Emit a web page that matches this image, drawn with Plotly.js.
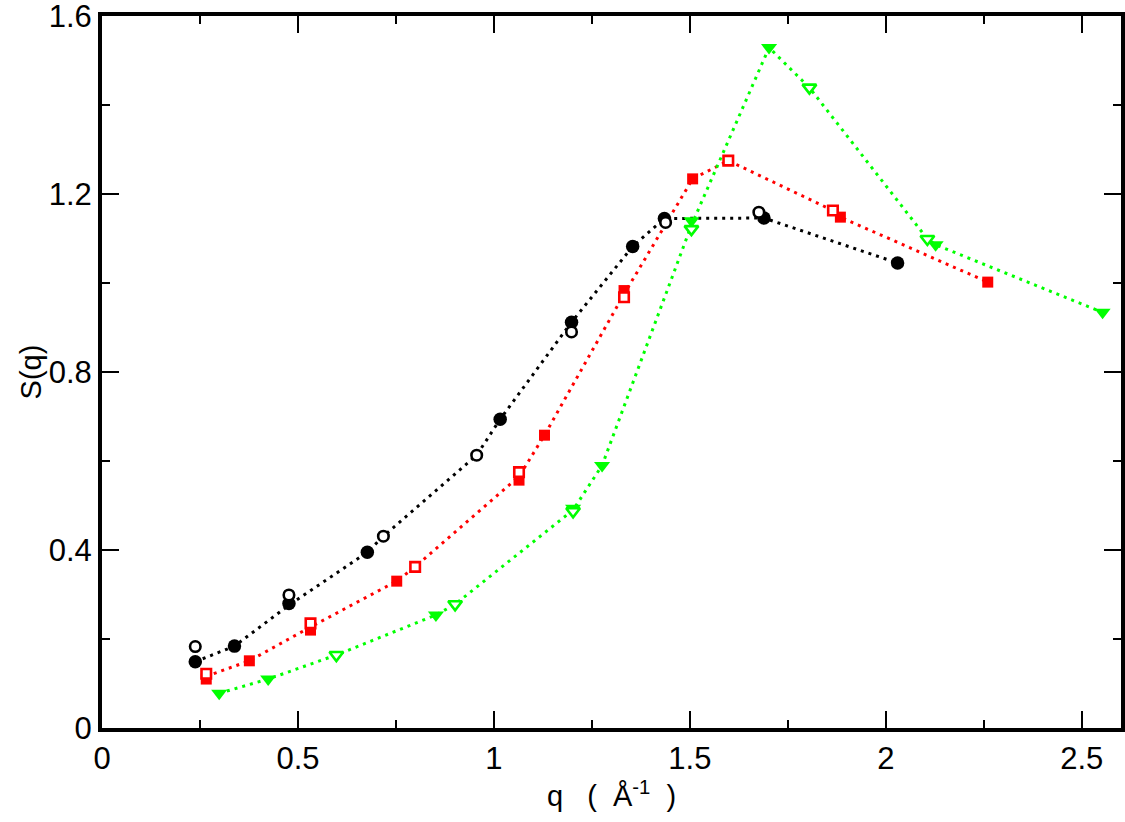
<!DOCTYPE html>
<html>
<head>
<meta charset="utf-8">
<script src="https://cdn.plot.ly/plotly-3.0.1.min.js"></script>
<style>
  html, body { margin: 0; padding: 0; background: #fff; }
  #chart { width: 1125px; height: 822px; }
</style>
</head>
<body>
<div id="chart"></div>
<script>
// S(q): filled and open symbols per colour
const qBlackFilled = [0.238, 0.338, 0.477, 0.677, 1.016, 1.198, 1.354, 1.435, 1.689, 2.030];
const sBlackFilled = [0.149, 0.184, 0.280, 0.395, 0.694, 0.912, 1.082, 1.145, 1.146, 1.045];
const qBlackOpen   = [0.238, 0.477, 0.718, 0.956, 1.198, 1.438, 1.676];
const sBlackOpen   = [0.183, 0.299, 0.431, 0.613, 0.890, 1.136, 1.159];

const qRedFilled = [0.266, 0.376, 0.532, 0.752, 1.064, 1.129, 1.332, 1.507, 1.884, 2.260];
const sRedFilled = [0.110, 0.151, 0.220, 0.330, 0.557, 0.658, 0.983, 1.234, 1.148, 1.002];
const qRedOpen   = [0.266, 0.532, 0.799, 1.064, 1.332, 1.598, 1.865];
const sRedOpen   = [0.122, 0.235, 0.362, 0.575, 0.968, 1.275, 1.163];

const qGreenFilled = [0.299, 0.424, 0.852, 1.202, 1.276, 1.504, 1.702, 2.127, 2.553];
const sGreenFilled = [0.078, 0.110, 0.254, 0.494, 0.590, 1.140, 1.529, 1.086, 0.934];
const qGreenOpen   = [0.598, 0.901, 1.202, 1.504, 1.805, 2.106];
const sGreenOpen   = [0.164, 0.278, 0.487, 1.121, 1.439, 1.099];

// dotted guide lines, vertices as they run in the figure
const qBlackLine = [0.238, 0.338, 0.477, 0.677, 0.718, 0.956, 1.016, 1.198, 1.354, 1.435, 1.689, 2.030];
const sBlackLine = [0.149, 0.184, 0.276, 0.395, 0.431, 0.613, 0.694, 0.912, 1.082, 1.145, 1.146, 1.045];
const qRedLine = [0.266, 0.376, 0.532, 0.752, 0.799, 1.064, 1.129, 1.332, 1.507, 1.598, 1.865, 1.884, 2.260];
const sRedLine = [0.116, 0.151, 0.227, 0.330, 0.362, 0.565, 0.658, 0.975, 1.234, 1.275, 1.163, 1.148, 1.002];
const qGreenLine = [0.299, 0.424, 0.598, 0.852, 0.901, 1.202, 1.276, 1.504, 1.702, 1.805, 2.106, 2.127, 2.553];
const sGreenLine = [0.078, 0.110, 0.164, 0.254, 0.278, 0.490, 0.590, 1.130, 1.529, 1.439, 1.099, 1.086, 0.934];

const BLACK = '#000000', RED = '#ff0000', GREEN = '#00ff00';
const FONT = 'Liberation Sans, Arial, Helvetica, sans-serif';

function lineTrace(color, q, s) {
  return { type: 'scatter', mode: 'lines', x: q, y: s, hoverinfo: 'skip',
    line: { color: color, width: 3, dash: '3px,5px' } };
}

function filled(color, symbol, size, q, s) {
  return { type: 'scatter', mode: 'markers', x: q, y: s,
    marker: { symbol: symbol, size: size, color: color, line: { width: 0 } } };
}

function open(color, symbol, size, q, s) {
  return { type: 'scatter', mode: 'markers', x: q, y: s,
    marker: { symbol: symbol, size: size, color: '#ffffff', line: { color: color, width: 2.6 } } };
}

const data = [
  lineTrace(BLACK, qBlackLine, sBlackLine),
  lineTrace(RED, qRedLine, sRedLine),
  lineTrace(GREEN, qGreenLine, sGreenLine),
  filled(BLACK, 'circle', 13.5, qBlackFilled, sBlackFilled),
  open(BLACK, 'circle', 10.5, qBlackOpen, sBlackOpen),
  filled(RED, 'square', 11, qRedFilled, sRedFilled),
  open(RED, 'square', 9.5, qRedOpen, sRedOpen),
  filled(GREEN, 'triangle-down', 14, qGreenFilled, sGreenFilled),
  open(GREEN, 'triangle-down', 12, qGreenOpen, sGreenOpen)
];

const axisCommon = {
  showgrid: false, zeroline: false,
  showline: true, linecolor: BLACK, linewidth: 4, mirror: 'allticks',
  ticks: 'inside', ticklen: 17, tickwidth: 2, tickcolor: BLACK,
  tickfont: { family: FONT, size: 31, color: BLACK },
  ticklabeloverflow: 'allow',
  autorange: false
};

const layout = {
  width: 1125, height: 822,
  margin: { l: 102, r: 4, t: 16, b: 94 },
  paper_bgcolor: '#ffffff', plot_bgcolor: '#ffffff',
  showlegend: false,
  font: { family: FONT, color: BLACK },
  xaxis: Object.assign({}, axisCommon, {
    range: [0, 2.6], tick0: 0, dtick: 0.5,
    minor: { ticks: 'inside', ticklen: 8, tickwidth: 2, tickcolor: BLACK, dtick: 0.25, showgrid: false },
    title: { text: 'q\u00a0\u00a0\u00a0(\u00a0\u00a0Å<sup>-1</sup>\u00a0\u00a0)', font: { family: FONT, size: 29, color: BLACK }, standoff: 4 }
  }),
  yaxis: Object.assign({}, axisCommon, {
    range: [0, 1.6], tick0: 0, dtick: 0.4,
    minor: { ticks: 'inside', ticklen: 8, tickwidth: 2, tickcolor: BLACK, dtick: 0.2, showgrid: false },
    title: { text: 'S(q)', font: { family: FONT, size: 29, color: BLACK }, standoff: 0 }
  })
};

Plotly.newPlot('chart', data, layout, { staticPlot: true, displayModeBar: false });
</script>
</body>
</html>
